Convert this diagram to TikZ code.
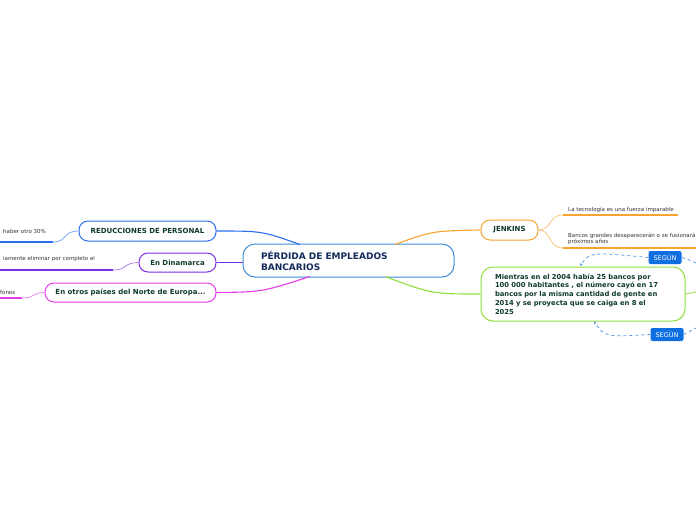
\documentclass[tikz,border=0pt]{standalone}
\usepackage{fontspec}
\setmainfont{DejaVu Sans}
\usetikzlibrary{arrows.meta}
\definecolor{cBlue}{HTML}{2B6FF0}
\definecolor{cPurple}{HTML}{7A2EE8}
\definecolor{cMag}{HTML}{E33CE8}
\definecolor{cOrange}{HTML}{F7A531}
\definecolor{cGreen}{HTML}{8FE03C}
\definecolor{cCentral}{HTML}{3C8DD6}
\definecolor{cSegun}{HTML}{0F6FE0}
\definecolor{cDash}{HTML}{5A9BE0}
\definecolor{tGreen}{HTML}{0E3B2C}
\definecolor{tNavy}{HTML}{142A5C}
\definecolor{tLeaf}{HTML}{333333}
\begin{document}
\begin{tikzpicture}[x=1pt,y=-1pt,
  branch/.style={draw, line width=1pt, rounded corners=9pt, fill=white, text=tGreen,
    font=\bfseries\fontsize{7}{8.5}\selectfont, inner sep=0pt, anchor=center},
  leaftext/.style={font=\fontsize{5.5}{6.4}\selectfont, text=tLeaf, inner sep=0pt, anchor=west, align=left},
  conn/.style={line width=1.1pt},
  under/.style={line width=1.6pt},
  twig/.style={line width=0.8pt},
  segun/.style={fill=cSegun, text=white, rounded corners=2pt, font=\fontsize{6.5}{7.5}\selectfont,
    minimum width=33pt, minimum height=13pt, inner sep=0pt, anchor=center},
  dsh/.style={cDash, line width=0.8pt, dash pattern=on 3pt off 3pt}
]
\useasboundingbox (0,0) rectangle (696,520);
\fill[white] (0,0) rectangle (696,520);

% central
\node[draw=cCentral, line width=1pt, rounded corners=12pt, fill=white, text=tNavy,
  font=\bfseries\fontsize{9}{11}\selectfont, minimum width=211pt, minimum height=33pt,
  text width=175pt, align=left, inner xsep=18pt, inner ysep=0pt, anchor=center]
  (c) at (348.5,260.5) {PÉRDIDA DE EMPLEADOS\\BANCARIOS};

% left branches
\node[branch, draw=cBlue, minimum width=137pt, minimum height=20pt] (red) at (147.5,231) {REDUCCIONES DE PERSONAL};
\node[branch, draw=cPurple, minimum width=77pt, minimum height=19pt] (din) at (177.5,262.5) {En Dinamarca};
\node[branch, draw=cMag, minimum width=171pt, minimum height=19pt] (eur) at (130.5,292.5) {En otros países del Norte de Europa...};

% right branches
\node[branch, draw=cOrange, minimum width=57pt, minimum height=20pt] (jen) at (509.5,230) {JENKINS};
\node[draw=cGreen, line width=1pt, rounded corners=12pt, fill=white, text=tGreen,
  font=\bfseries\fontsize{6.8}{8.8}\selectfont, minimum width=204pt, minimum height=54pt,
  text width=176pt, align=left, inner xsep=14pt, inner ysep=0pt, anchor=center]
  (mie) at (583,294) {Mientras en el 2004 había 25 bancos por\\100 000 habitantes , el número cayó en 17\\bancos por la misma cantidad de gente en\\2014 y se proyecta que se caiga en 8 el\\2025};

% connectors central - branches
\coordinate (cb) at (300,244.5);
\coordinate (cm) at (310,276.5);
\coordinate (co) at (395,244.5);
\coordinate (cg) at (385,276.5);
\draw[conn, cBlue] (red.east) .. controls (262,231) .. (cb);
\draw[conn, cPurple] (din.east) -- (c.west |- din.east);
\draw[conn, cMag] (eur.east) .. controls (262,292) .. (cm);
\draw[conn, cOrange] (co) .. controls (432,231) .. (jen.west);
\draw[conn, cGreen] (cg) .. controls (432,294) .. (mie.west);

% left leaves
\node[leaftext] (l1) at (3,231) {haber otro 30\%};
\coordinate (l1a) at (53,242); \coordinate (l1b) at (0,242);
\draw[under, cBlue] (l1b) -- (l1a);
\draw[twig, cBlue!60] (l1a) .. controls (68,242) and (62,231) .. (red.west);

\node[leaftext] (l2) at (3,259) {iamente eliminar por completo el};
\coordinate (l2a) at (113,270); \coordinate (l2b) at (0,270);
\draw[under, cPurple] (l2b) -- (l2a);
\draw[twig, cPurple!60] (l2a) .. controls (128,270) and (122,263) .. (din.west);

\node[leaftext] (l3) at (0,292) {fonos};
\coordinate (l3a) at (22,298); \coordinate (l3b) at (0,298);
\draw[under, cMag] (l3b) -- (l3a);
\draw[twig, cMag!60] (l3a) .. controls (36,298) and (30,293) .. (eur.west);

% JENKINS leaves
\node[leaftext] (j1) at (568,210) {La tecnología es una fuerza imparable};
\coordinate (j1a) at (563,215); \coordinate (j1b) at (678,215);
\draw[under, cOrange] (j1a) -- (j1b);
\draw[twig, cOrange!60] (jen.east) .. controls (552,230) and (548,215) .. (j1a);

\node[leaftext] (j2) at (568,239) {Bancos grandes desaparecerán o se fusionarán\\próximos años};
\coordinate (j2a) at (563,248); \coordinate (j2b) at (696,248);
\draw[under, cOrange] (j2a) -- (j2b);
\draw[twig, cOrange!60] (jen.east) .. controls (552,230) and (548,248) .. (j2a);

% green right stub
\coordinate (g1) at (696,292);
\draw[line width=0.8pt, cGreen] (mie.east) -- (g1);

% SEGUN
\node[segun] (s1) at (665,257.5) {SEGÚN};
\node[segun] (s2) at (667,334.5) {SEGÚN};
\coordinate (s1r) at (696,263);
\coordinate (s2r) at (696,328);
\coordinate (a1) at (580,266);
\coordinate (a2) at (594,321.5);
\draw[dsh] (s1r) .. controls (690,260) .. (s1.east);
\draw[dsh, -{Stealth[length=3pt,width=3pt]}] (s1.west) .. controls (590,252) .. (a1);
\draw[dsh] (s2.east) .. controls (690,332) .. (s2r);
\draw[dsh, -{Stealth[length=3pt,width=3pt]}] (s2.west) .. controls (605,337) .. (a2);
\end{tikzpicture}
\end{document}
